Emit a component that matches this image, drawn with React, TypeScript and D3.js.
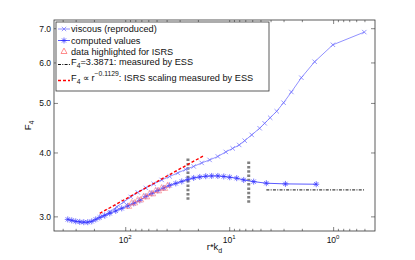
import * as d3 from "d3";

// viscous (reproduced): r*k_d vs F4
const viscousR = [166.4, 142.5, 122.0, 104.5, 89.5, 76.7, 64.2, 53.8, 45.1, 37.8, 31.6, 26.5, 22.2, 18.6, 15.6, 13.0, 10.9, 9.36, 8.1, 7.17, 6.14, 5.15, 4.61, 4.08, 3.53, 3.03, 2.55, 2.045, 1.523, 1.016, 0.507];
const viscousF4 = [3.007, 3.068, 3.138, 3.209, 3.282, 3.349, 3.418, 3.48, 3.543, 3.599, 3.656, 3.715, 3.765, 3.825, 3.877, 3.938, 4.019, 4.083, 4.147, 4.228, 4.339, 4.471, 4.572, 4.688, 4.826, 5.016, 5.264, 5.614, 6.032, 6.511, 6.894];

// computed values
const computedR = [361.2, 330.5, 302.6, 276.9, 253.3, 232.0, 212.3, 194.3, 177.8, 159.2, 142.5, 124.8, 109.3, 95.7, 83.8, 73.3, 64.2, 56.2, 49.2, 43.1, 37.8, 33.0, 28.9, 25.3, 22.2, 19.4, 17.0, 14.9, 13.0, 11.4, 10.0, 8.56, 7.33, 5.88, 4.44, 2.91, 1.47];
const computedF4 = [2.966, 2.953, 2.94, 2.933, 2.929, 2.929, 2.94, 2.966, 2.993, 3.02, 3.048, 3.082, 3.117, 3.152, 3.188, 3.231, 3.29, 3.334, 3.379, 3.418, 3.457, 3.488, 3.519, 3.551, 3.575, 3.591, 3.603, 3.607, 3.607, 3.599, 3.586, 3.571, 3.543, 3.516, 3.491, 3.48, 3.475];

// data highlighted for ISRS
const isrsR = [93.6, 87.6, 81.9, 76.7, 71.7, 67.1, 62.8, 58.8, 55.0, 51.5, 48.2, 45.1, 42.2, 39.5];
const isrsF4 = [3.145, 3.195, 3.195, 3.239, 3.239, 3.29, 3.282, 3.334, 3.327, 3.379, 3.372, 3.418, 3.41, 3.457];

// fits measured by ESS
const essLevel = 3.3871;
const essR = [4.44, 0.5];
const fitR = [177.8, 18.0];
const fitF4 = [3.048, 3.946];

// range bounds (gray vertical markers)
const boundR = [25.2, 6.56];
const boundLow = [3.24, 3.196];
const boundHigh = [3.91, 3.85];

const yTicks = [3, 4, 5, 6, 7];
const xTickExps = [2, 1, 0];

const W = 415;
const H = 260;
const M = { left: 54, right: 40, top: 20, bottom: 29 };
const FONT = "'Liberation Sans', Arial, Helvetica, sans-serif";
const LF = 9.2; // legend font size

const star = "M-3,0H3M0,-3V3M-2.1,-2.1L2.1,2.1M-2.1,2.1L2.1,-2.1";
const cross = "M-2.2,-2.2L2.2,2.2M-2.2,2.2L2.2,-2.2";
const tri = "M0,-3.4L3,2L-3,2Z";

export default function App() {
  const x = d3.scaleLog().domain([490, 0.4]).range([M.left, W - M.right]);
  const y = d3.scaleLog().domain([2.815, 7.28]).range([H - M.bottom, M.top]);
  const x0 = M.left;
  const x1 = W - M.right;
  const y0 = H - M.bottom;
  const y1 = M.top;

  const line = d3
    .line<[number, number]>()
    .x((d) => x(d[0]))
    .y((d) => y(d[1]));

  const viscous = viscousR.map((r, i) => [r, viscousF4[i]] as [number, number]);
  const computed = computedR.map((r, i) => [r, computedF4[i]] as [number, number]);
  const isrs = isrsR.map((r, i) => [r, isrsF4[i]] as [number, number]);

  // minor ticks 2..9 x 10^k inside the domain
  const xMinor: number[] = [];
  for (let k = -1; k <= 2; k++) {
    for (let m = 2; m <= 9; m++) {
      const v = m * Math.pow(10, k);
      if (v < 490 && v > 0.4) xMinor.push(v);
    }
  }

  // legend: sample line y for each row
  const legendRows = [29, 40.5, 51.5, 64.5, 80.5];
  const lx0 = 58;
  const lx1 = 70;
  const tx = 71;

  return (
    <svg
      width={W}
      height={H}
      style={{ position: "absolute", left: 0, top: 0, background: "#fff" }}
      fontFamily={FONT}
    >
      <rect x={0} y={0} width={W} height={H} fill="#fff" />

      {/* bounds */}
      {boundR.map((r, i) => (
        <line
          key={`b${i}`}
          x1={x(r)}
          x2={x(r)}
          y1={y(boundLow[i])}
          y2={y(boundHigh[i])}
          stroke="#808080"
          strokeWidth={3}
          strokeDasharray="2.5,1.8"
        />
      ))}

      {/* ESS level */}
      <line
        x1={x(essR[0])}
        x2={x(essR[1])}
        y1={y(essLevel)}
        y2={y(essLevel)}
        stroke="#111"
        strokeWidth={1}
        strokeDasharray="3,1.3,1,1.3"
      />

      {/* viscous */}
      <path d={line(viscous) ?? ""} fill="none" stroke="#8585ff" strokeWidth={0.9} />
      {viscous.map((d, i) => (
        <path
          key={`v${i}`}
          d={cross}
          transform={`translate(${x(d[0])},${y(d[1])})`}
          stroke="#6a6aff"
          strokeWidth={0.7}
          fill="none"
        />
      ))}

      {/* computed */}
      <path d={line(computed) ?? ""} fill="none" stroke="#5a5aff" strokeWidth={1} />
      {computed.map((d, i) => (
        <path
          key={`c${i}`}
          d={star}
          transform={`translate(${x(d[0])},${y(d[1])})`}
          stroke="#3535ff"
          strokeWidth={0.7}
          fill="none"
        />
      ))}

      {/* ISRS highlighted */}
      {isrs.map((d, i) => (
        <path
          key={`t${i}`}
          d={tri}
          transform={`translate(${x(d[0])},${y(d[1])})`}
          stroke="#ff7070"
          strokeOpacity={0.75}
          strokeWidth={0.7}
          fill="none"
        />
      ))}

      {/* ISRS fit */}
      <line
        x1={x(fitR[0])}
        x2={x(fitR[1])}
        y1={y(fitF4[0])}
        y2={y(fitF4[1])}
        stroke="#ff0000"
        strokeWidth={1.4}
        strokeDasharray="3,2"
      />

      {/* axes box */}
      <rect x={x0} y={y1} width={x1 - x0} height={y0 - y1} fill="none" stroke="#333" strokeWidth={0.8} />

      {/* y ticks */}
      {yTicks.map((t) => (
        <g key={`yt${t}`}>
          <line x1={x0} x2={x0 + 4} y1={y(t)} y2={y(t)} stroke="#333" strokeWidth={0.6} />
          <line x1={x1} x2={x1 - 4} y1={y(t)} y2={y(t)} stroke="#333" strokeWidth={0.6} />
          <text x={x0 - 3} y={y(t) + 3} fontSize={8.5} textAnchor="end" fill="#111">
            {t.toFixed(1)}
          </text>
        </g>
      ))}

      {/* x ticks */}
      {xMinor.map((v, i) => (
        <g key={`xm${i}`}>
          <line x1={x(v)} x2={x(v)} y1={y0} y2={y0 - 2.2} stroke="#333" strokeWidth={0.6} />
          <line x1={x(v)} x2={x(v)} y1={y1} y2={y1 + 2.2} stroke="#333" strokeWidth={0.6} />
        </g>
      ))}
      {xTickExps.map((e) => {
        const px = x(Math.pow(10, e));
        return (
          <g key={`xt${e}`}>
            <line x1={px} x2={px} y1={y0} y2={y0 - 4} stroke="#333" strokeWidth={0.6} />
            <line x1={px} x2={px} y1={y1} y2={y1 + 4} stroke="#333" strokeWidth={0.6} />
            <text x={px - 7} y={y0 + 12} fontSize={8.5} fill="#111">
              10
              <tspan dy={-4} fontSize={6}>
                {e}
              </tspan>
            </text>
          </g>
        );
      })}

      {/* axis labels */}
      <text x={(x0 + x1) / 2} y={H - 10} fontSize={9.5} textAnchor="middle" fill="#111">
        r*k
        <tspan dy={3} fontSize={7}>
          d
        </tspan>
      </text>
      <text
        transform={`translate(31,${(y0 + y1) / 2}) rotate(-90)`}
        fontSize={9.5}
        textAnchor="middle"
        fill="#111"
      >
        F
        <tspan dy={3} fontSize={7}>
          4
        </tspan>
      </text>

      {/* legend */}
      <rect x={56} y={22} width={213} height={69} fill="#fff" stroke="#333" strokeWidth={0.8} />
      <line x1={lx0} x2={lx1} y1={legendRows[0]} y2={legendRows[0]} stroke="#8585ff" strokeWidth={0.9} />
      <path d={cross} transform={`translate(64,${legendRows[0]})`} stroke="#6a6aff" strokeWidth={0.7} fill="none" />
      <text x={tx} y={legendRows[0] + 3.3} fontSize={LF} fill="#111">
        viscous (reproduced)
      </text>

      <line x1={lx0} x2={lx1} y1={legendRows[1]} y2={legendRows[1]} stroke="#5a5aff" strokeWidth={1} />
      <path d={star} transform={`translate(64,${legendRows[1]})`} stroke="#3535ff" strokeWidth={0.7} fill="none" />
      <text x={tx} y={legendRows[1] + 3.3} fontSize={LF} fill="#111">
        computed values
      </text>

      <path d={tri} transform={`translate(64,${legendRows[2]})`} stroke="#ff7070" strokeWidth={0.8} fill="none" />
      <text x={tx} y={legendRows[2] + 3.3} fontSize={LF} fill="#111">
        data highlighted for ISRS
      </text>

      <line
        x1={lx0}
        x2={lx1}
        y1={legendRows[3]}
        y2={legendRows[3]}
        stroke="#111"
        strokeWidth={1}
        strokeDasharray="3,1.3,1,1.3"
      />
      <text x={tx} y={legendRows[3] + 0.8} fontSize={LF} fill="#111">
        F
        <tspan dy={3} fontSize={6.8}>
          4
        </tspan>
        <tspan dy={-3}>=3.3871: measured by ESS</tspan>
      </text>

      <line
        x1={lx0}
        x2={lx1}
        y1={legendRows[4]}
        y2={legendRows[4]}
        stroke="#ff0000"
        strokeWidth={1.4}
        strokeDasharray="3,2"
      />
      <text x={tx} y={legendRows[4]} fontSize={LF} fill="#111">
        F
        <tspan dy={3} fontSize={6.8}>
          4
        </tspan>
        <tspan dy={-3}> ∝ r</tspan>
        <tspan dy={-4.5} fontSize={6.8}>
          −0.1129
        </tspan>
        <tspan dy={4.5}>: ISRS scaling measured by ESS</tspan>
      </text>
    </svg>
  );
}
